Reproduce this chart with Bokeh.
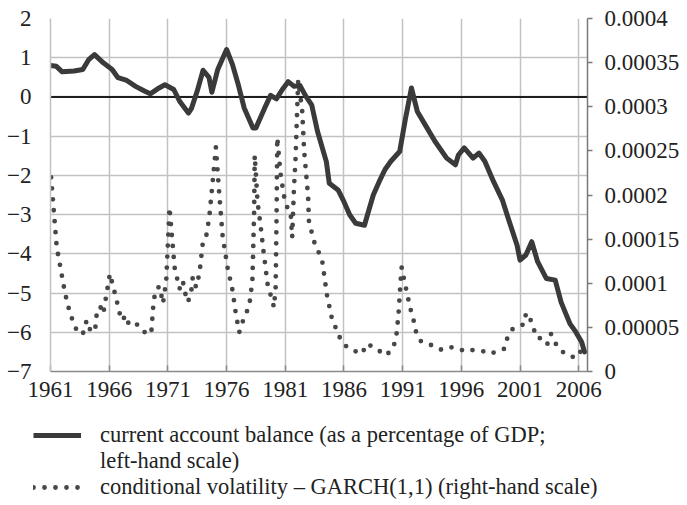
from bokeh.plotting import figure
from bokeh.models import (Range1d, LinearAxis, FixedTicker, CustomJSTickFormatter,
                          Span, Legend, LegendItem)
from bokeh.embed import file_html
from bokeh.resources import INLINE

# ---------------- data ----------------
ca_year = [1961.0, 1961.5, 1962.0, 1963.0, 1963.75, 1964.25, 1964.75, 1965.5, 1966.25, 1966.75,
           1967.5, 1968.25, 1969.0, 1969.5, 1970.25, 1970.75, 1971.5, 1972.0, 1972.75, 1973.0,
           1973.5, 1974.0, 1974.5, 1974.75, 1975.25, 1976.0, 1976.5, 1977.0, 1977.5, 1978.25,
           1978.5, 1979.25, 1979.75, 1980.25, 1980.75, 1981.25, 1981.75, 1982.25, 1982.75, 1983.25,
           1983.75, 1984.5, 1984.75, 1985.5, 1986.0, 1986.5, 1987.0, 1987.75, 1988.0, 1988.5,
           1989.0, 1989.5, 1990.0, 1990.75, 1991.25, 1991.75, 1992.25, 1993.0, 1993.75, 1994.75,
           1995.5, 1995.75, 1996.25, 1997.0, 1997.5, 1998.0, 1998.75, 1999.5, 2000.0, 2000.75,
           2001.0, 2001.5, 2002.0, 2002.5, 2003.25, 2004.0, 2004.5, 2005.25, 2005.75, 2006.25,
           2006.5]
ca_value = [0.80, 0.78, 0.64, 0.66, 0.70, 0.95, 1.08, 0.87, 0.70, 0.49,
            0.42, 0.27, 0.15, 0.08, 0.23, 0.31, 0.19, -0.11, -0.41, -0.30,
            0.15, 0.68, 0.50, 0.12, 0.70, 1.21, 0.83, 0.31, -0.28, -0.79,
            -0.79, -0.28, 0.04, -0.05, 0.19, 0.39, 0.27, 0.29, 0.02, -0.20,
            -0.88, -1.65, -2.20, -2.37, -2.67, -3.01, -3.22, -3.27, -3.01, -2.50,
            -2.16, -1.85, -1.64, -1.39, -0.54, 0.23, -0.37, -0.75, -1.13, -1.56,
            -1.73, -1.48, -1.30, -1.56, -1.43, -1.64, -2.16, -2.63, -3.10, -3.78,
            -4.16, -4.03, -3.69, -4.20, -4.63, -4.67, -5.23, -5.78, -5.99, -6.25,
            -6.50]

garch_year = [1961.05, 1961.53, 1962.25, 1962.67, 1963.23, 1963.74, 1964.08, 1964.42, 1964.79, 1964.98,
              1965.26, 1965.49, 1966.06, 1966.57, 1967.04, 1967.47, 1967.69, 1968.46, 1969.03, 1969.58,
              1969.79, 1970.01, 1970.30, 1970.58, 1970.86, 1971.14, 1971.57, 1971.99, 1972.27, 1972.41,
              1972.69, 1972.97, 1973.12, 1973.40, 1973.69, 1973.97, 1974.25, 1974.53, 1974.81, 1975.09,
              1975.38, 1975.66, 1976.08, 1976.51, 1976.79, 1977.08, 1977.55, 1977.92, 1978.20, 1978.35,
              1978.40, 1978.64, 1978.91, 1979.14, 1979.49, 1980.04, 1980.18, 1980.26, 1980.32, 1980.60,
              1980.89, 1981.17, 1981.45, 1981.59, 1981.74, 1981.87, 1982.10, 1982.44, 1982.61, 1982.95,
              1983.01, 1983.43, 1984.14, 1984.56, 1984.98, 1985.69, 1986.25, 1986.82, 1987.53, 1987.95,
              1988.80, 1989.50, 1990.07, 1990.43, 1990.64, 1990.83, 1990.92, 1991.20, 1991.42, 1991.62,
              1991.91, 1992.10, 1992.47, 1992.97, 1993.60, 1994.31, 1995.01, 1995.58, 1996.14, 1996.57,
              1997.27, 1997.84, 1998.54, 1999.11, 1999.67, 1999.90, 2000.38, 2000.94, 2001.36, 2001.51,
              2001.79, 2002.08, 2002.55, 2002.92, 2003.35, 2003.63, 2003.77, 2004.19, 2004.90, 2005.75,
              2006.03, 2006.59]
garch_value = [0.000220, 0.000141, 0.0000880, 0.0000654, 0.0000465, 0.0000419, 0.0000578, 0.0000457, 0.0000457, 0.0000710,
               0.0000729, 0.0000654, 0.0001107, 0.0000842, 0.0000578, 0.0000635, 0.0000521, 0.0000533, 0.0000445, 0.0000427,
               0.0000805, 0.0000937, 0.0000963, 0.0000770, 0.000103, 0.000186, 0.000118, 0.0000937, 0.000103, 0.0000918,
               0.0000785, 0.0000880, 0.000107, 0.0000955, 0.000111, 0.000145, 0.000152, 0.000175, 0.000214, 0.000254,
               0.000201, 0.000154, 0.000118, 0.0000918, 0.0000654, 0.0000445, 0.0000635, 0.0000729, 0.000103, 0.000182,
               0.000245, 0.000192, 0.000164, 0.000137, 0.0000994, 0.0000729, 0.0000955, 0.000175, 0.000265, 0.000224,
               0.000199, 0.000186, 0.000182, 0.000152, 0.000207, 0.000239, 0.000330, 0.000296, 0.000250, 0.000198,
               0.000171, 0.000148, 0.000126, 0.0000861, 0.0000597, 0.0000371, 0.0000276, 0.0000238, 0.0000200, 0.0000314,
               0.0000257, 0.0000181, 0.0000238, 0.0000359, 0.0000635, 0.000103, 0.000118, 0.0000994, 0.0000861, 0.0000729,
               0.0000597, 0.0000465, 0.0000351, 0.0000314, 0.0000295, 0.0000246, 0.0000276, 0.0000269, 0.0000238, 0.0000257,
               0.0000230, 0.0000230, 0.0000200, 0.0000238, 0.0000257, 0.0000371, 0.0000484, 0.0000521, 0.0000533, 0.0000661,
               0.0000635, 0.0000502, 0.0000371, 0.0000389, 0.0000314, 0.0000427, 0.0000389, 0.0000276, 0.0000193, 0.0000155,
               0.0000219, 0.0000238]

x_ticks = [1961, 1966, 1971, 1976, 1981, 1986, 1991, 1996, 2001, 2006]
x_labels = ["1961", "1966", "1971", "1976", "1981", "1986", "1991", "1996", "2001", "2006"]
left_ticks = [-7, -6, -5, -4, -3, -2, -1, 0, 1, 2]
left_labels = ["\u22127", "\u22126", "\u22125", "\u22124", "\u22123", "\u22122", "\u22121", "0", "1", "2"]
right_ticks = [0, 0.00005, 0.0001, 0.00015, 0.0002, 0.00025, 0.0003, 0.00035, 0.0004]
right_labels = ["0", "0.00005", "0.0001", "0.00015", "0.0002", "0.00025", "0.0003", "0.00035", "0.0004"]

legend_labels = ["current account balance (as a percentage of GDP;",
                 "left-hand scale)",
                 "conditional volatility \u2013 GARCH(1,1) (right-hand scale)"]

# ---------------- style ----------------
FONT = "Liberation Serif"
FS = "23px"
GRID = "#c2c2c2"
CA_COLOR = "#3a3a3a"
G_COLOR = "#474747"


def fmt(vals, labs):
    return CustomJSTickFormatter(args=dict(vals=vals, labs=labs), code="""
        for (let i = 0; i < vals.length; i++) {
            if (Math.abs(vals[i] - tick) < 1e-9) { return labs[i]; }
        }
        return '';
    """)


p = figure(frame_width=537, frame_height=353,
           x_range=Range1d(1961, 2006.75), y_range=Range1d(-7, 2),
           output_backend="svg", toolbar_location=None,
           min_border_left=50, min_border_right=92, min_border_top=18, min_border_bottom=40)
p.extra_y_ranges = {"right": Range1d(0, 0.0004)}
p.outline_line_color = None
p.background_fill_color = "white"
p.border_fill_color = "white"

# grids
p.xgrid.ticker = FixedTicker(ticks=x_ticks)
p.ygrid.ticker = FixedTicker(ticks=left_ticks)
for g in (p.xgrid, p.ygrid):
    g.grid_line_color = GRID
    g.grid_line_width = 1.5

# bottom axis
xa = p.xaxis[0]
xa.ticker = FixedTicker(ticks=x_ticks)
xa.formatter = fmt(x_ticks, x_labels)
xa.axis_line_color = "#8a8a8a"
xa.axis_line_width = 1.5
xa.major_tick_in = 6
xa.major_tick_out = 0
xa.major_tick_line_color = "#8a8a8a"
xa.major_tick_line_width = 1.5
xa.minor_tick_line_color = None
xa.major_label_standoff = 10
xa.major_label_text_font = FONT
xa.major_label_text_font_size = FS
xa.major_label_text_color = "#222222"

# left axis
ya = p.yaxis[0]
ya.ticker = FixedTicker(ticks=left_ticks)
ya.formatter = fmt(left_ticks, left_labels)
ya.axis_line_color = GRID
ya.axis_line_width = 1.5
ya.major_tick_line_color = None
ya.minor_tick_line_color = None
ya.major_label_standoff = 13
ya.major_label_text_font = FONT
ya.major_label_text_font_size = FS
ya.major_label_text_color = "#222222"

# right axis
ra = LinearAxis(y_range_name="right", ticker=FixedTicker(ticks=right_ticks),
                formatter=fmt(right_ticks, right_labels))
ra.axis_line_color = "#7a7a7a"
ra.axis_line_width = 1.5
ra.major_tick_out = 5
ra.major_tick_in = 0
ra.major_tick_line_color = "#7a7a7a"
ra.major_tick_line_width = 1.5
ra.minor_tick_line_color = None
ra.major_label_standoff = 12
ra.major_label_text_font = FONT
ra.major_label_text_font_size = FS
ra.major_label_text_color = "#222222"
p.add_layout(ra, "right")

zero = Span(location=0, dimension="width", line_color="#1e1e1e", line_width=2, level="underlay")
p.add_layout(zero)

p.line(garch_year, garch_value, y_range_name="right", line_width=4.8, line_color=G_COLOR,
       line_dash="0 11", line_cap="round")
p.line(ca_year, ca_value, line_width=5, line_color=CA_COLOR, line_join="round", line_cap="round")

# ---------------- legend strip (separate root, no axes) ----------------
lg = figure(width=680, height=90, x_range=Range1d(0, 1), y_range=Range1d(0, 1),
            x_axis_location=None, y_axis_location=None,
            output_backend="svg", toolbar_location=None,
            min_border_left=0, min_border_right=0, min_border_top=0, min_border_bottom=0)
lg.grid.visible = False
lg.outline_line_color = None
lg.background_fill_color = "white"
lg.border_fill_color = "white"
# same series as above; they lie outside this strip's ranges, only their legend swatches show
r1 = lg.line(ca_year, ca_value, line_width=5, line_color=CA_COLOR)
r2 = lg.line(ca_year, ca_value, line_alpha=0)
r3 = lg.line(garch_year, garch_value, line_width=4.8, line_color=G_COLOR,
             line_dash="0 11", line_cap="round")
legend = Legend(items=[LegendItem(label=legend_labels[0], renderers=[r1]),
                       LegendItem(label=legend_labels[1], renderers=[r2]),
                       LegendItem(label=legend_labels[2], renderers=[r3])],
                location=(33, 1), orientation="vertical",
                border_line_color=None, background_fill_alpha=0,
                padding=0, margin=0, spacing=0,
                glyph_width=48, glyph_height=24, label_height=24, label_standoff=19,
                label_text_font=FONT, label_text_font_size="22.5px", label_text_color="#222222")
lg.add_layout(legend)

open("out.html", "w").write(file_html([p, lg], INLINE))
